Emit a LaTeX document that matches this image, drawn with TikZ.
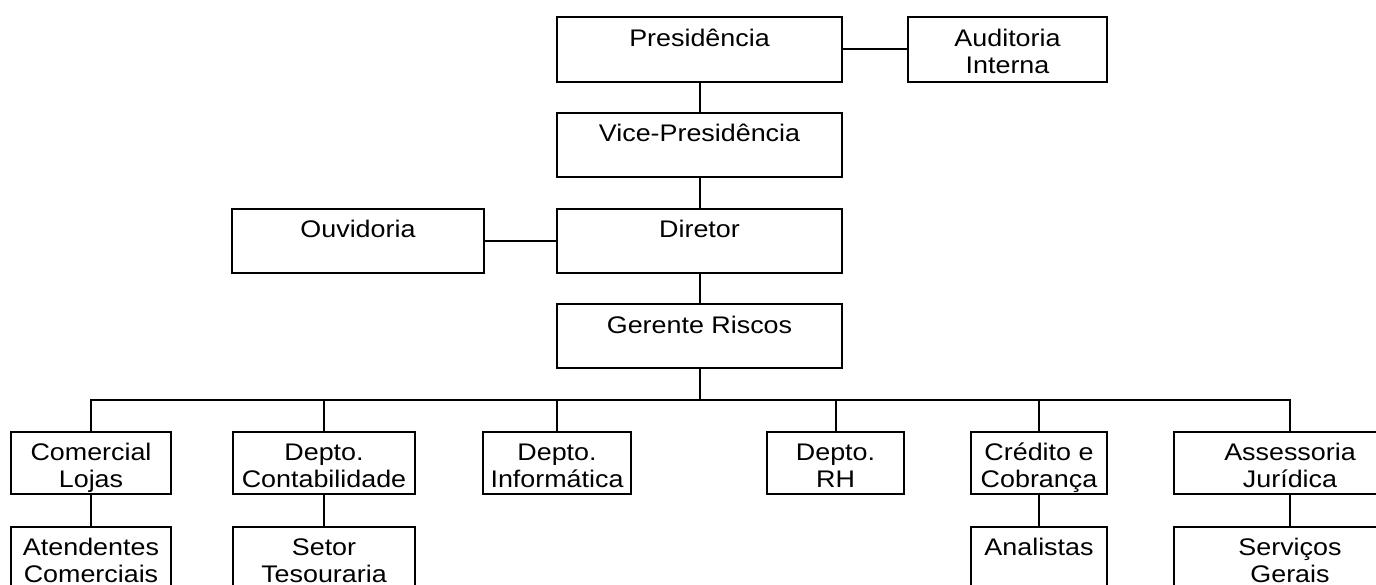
\documentclass[tikz,border=0pt]{standalone}
\usepackage{fontspec}
\setmainfont{Liberation Sans}[FakeStretch=1.12]

% text sits at the top of each box
\newcommand{\topcell}[1]{\vbox to 62pt{\vskip 9.1pt\hbox{\begin{tabular}[t]{@{}c@{}}#1\end{tabular}}\vss}}

\begin{document}
\begin{tikzpicture}[x=1pt, y=-1pt,
    unit/.style={draw, line width=2pt, inner sep=0pt, minimum height=62pt, font=\fontsize{24pt}{27pt}\selectfont},
    link/.style={line width=2pt}]
        \useasboundingbox (0,0) rectangle (1376,585);
        \clip (0,0) rectangle (1376,585);

        % Top of the chart
        \node[unit, minimum width=285pt, minimum height=65pt] (pres) at (699.5,49.5) {\topcell{Presidência}};
        \node[unit, minimum width=199pt, minimum height=65pt] (audit) at (1007.5,49.5) {\topcell{Auditoria\\Interna}};
        \node[unit, minimum width=285pt, minimum height=64pt] (vice) at (699.5,145) {\topcell{Vice-Presidência}};
        \node[unit, minimum width=285pt, minimum height=64pt] (dir) at (699.5,241) {\topcell{Diretor}};
        \node[unit, minimum width=252pt, minimum height=64pt] (ouv) at (358,241) {\topcell{Ouvidoria}};
        \node[unit, minimum width=285pt, minimum height=64pt] (ger) at (699.5,336) {\topcell{Gerente Riscos}};

        \draw[link] (pres) -- (audit);
        \draw[link] (pres) -- (vice);
        \draw[link] (vice) -- (dir);
        \draw[link] (ouv) -- (dir);
        \draw[link] (dir) -- (ger);

        % Departments
        \node[unit, minimum width=160pt] (com) at (91,463) {\topcell{Comercial\\Lojas}};
        \node[unit, minimum width=182pt] (cont) at (324,463) {\topcell{Depto.\\Contabilidade}};
        \node[unit, minimum width=148pt] (info) at (557,463) {\topcell{Depto.\\Informática}};
        \node[unit, minimum width=137pt] (rh) at (835.5,463) {\topcell{Depto.\\RH}};
        \node[unit, minimum width=136pt] (cred) at (1039,463) {\topcell{Crédito e\\Cobrança}};
        \node[unit, minimum width=232pt] (jur) at (1290,463) {\topcell{Assessoria\\Jurídica}};

        \coordinate (bus) at (699.5,400);
        \draw[link] (ger) -- (bus);
        \draw[link] (com.north) |- (bus) -| (jur.north);
        \foreach \dept in {cont, info, rh, cred}
            \draw[link] (\dept.north) -- (\dept.north |- bus);

        % Sections
        \node[unit, minimum width=160pt] (aten) at (91,558) {\topcell{Atendentes\\Comerciais}};
        \node[unit, minimum width=182pt] (tes) at (324,558) {\topcell{Setor\\Tesouraria}};
        \node[unit, minimum width=136pt] (anal) at (1039,558) {\topcell{Analistas}};
        \node[unit, minimum width=232pt] (serv) at (1290,558) {\topcell{Serviços\\Gerais}};

        \draw[link] (com) -- (aten);
        \draw[link] (cont) -- (tes);
        \draw[link] (cred) -- (anal);
        \draw[link] (jur) -- (serv);
    \end{tikzpicture}
\end{document}
